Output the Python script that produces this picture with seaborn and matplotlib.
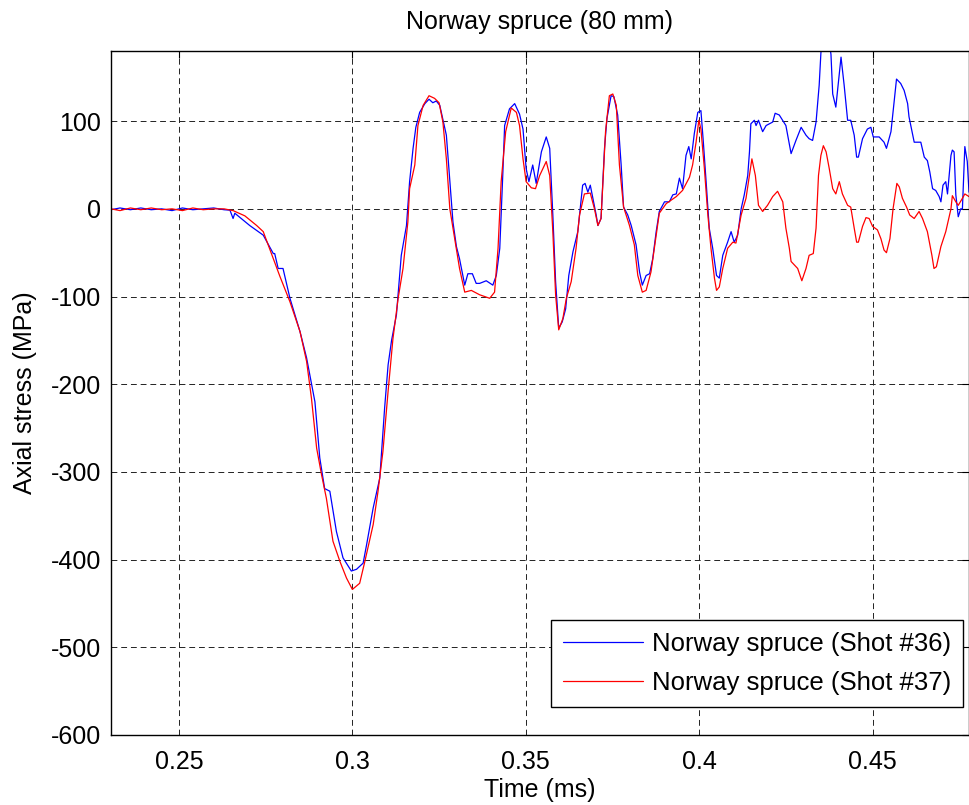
import numpy as np
import pandas as pd
import matplotlib
matplotlib.use("Agg")
import matplotlib.pyplot as plt
import seaborn as sns

# ---------------- data ----------------
series_names = ["Norway spruce (Shot #36)", "Norway spruce (Shot #37)"]

t36 = [0.2304, 0.233, 0.236, 0.239, 0.242, 0.245, 0.248, 0.251, 0.254, 0.257, 0.260, 0.263,
       0.2647, 0.2656, 0.2661, 0.2704, 0.2743, 0.2772, 0.2776, 0.2786, 0.2800, 0.2820, 0.2849,
       0.2868, 0.2892, 0.2906, 0.2920, 0.2935, 0.2954, 0.2973, 0.2997, 0.3012, 0.3031, 0.3041,
       0.3060, 0.3079, 0.3093, 0.3103, 0.3113, 0.3127, 0.3141, 0.3156, 0.3165, 0.3175, 0.3183,
       0.3194, 0.3209, 0.3221, 0.3232, 0.3242, 0.3252, 0.3271, 0.3281, 0.3290, 0.3300, 0.3309,
       0.3324, 0.3333, 0.3346, 0.3357, 0.3367, 0.3386, 0.3405, 0.3415, 0.3425, 0.3434, 0.3439,
       0.3453, 0.3468, 0.3482, 0.3492, 0.3501, 0.3509, 0.3520, 0.3530, 0.3545, 0.3559, 0.3569,
       0.3578, 0.3586, 0.3595, 0.3605, 0.3615, 0.3624, 0.3636, 0.3650, 0.3664, 0.3671, 0.3679,
       0.3686, 0.3703, 0.3708, 0.3717, 0.3727, 0.3734, 0.3746, 0.3754, 0.3765, 0.3775, 0.3782,
       0.3794, 0.3804, 0.3818, 0.3828, 0.3836, 0.3847, 0.3857, 0.3866, 0.3876, 0.3885, 0.3900,
       0.3914, 0.3924, 0.3934, 0.3943, 0.3952, 0.3962, 0.3970, 0.3977, 0.3986, 0.3996, 0.4005,
       0.4012, 0.4020, 0.4029, 0.4039, 0.4050, 0.4058, 0.4068, 0.4082, 0.4092, 0.4101, 0.4111,
       0.4121, 0.4130, 0.4140, 0.4145, 0.4149, 0.4159, 0.4164, 0.4171, 0.4183, 0.4193, 0.4212,
       0.4219, 0.4231, 0.4250, 0.4265, 0.4279, 0.4294, 0.4308, 0.4317, 0.4327, 0.4337, 0.4346,
       0.4351, 0.4361, 0.4372, 0.4380, 0.4385, 0.4394, 0.4409, 0.4418, 0.4428, 0.4437, 0.4447,
       0.4454, 0.4459, 0.4471, 0.4485, 0.4495, 0.4502, 0.4519, 0.4533, 0.4540, 0.4553, 0.4569,
       0.4581, 0.4591, 0.4601, 0.4605, 0.4620, 0.4639, 0.4649, 0.4658, 0.4665, 0.4673, 0.4682,
       0.4692, 0.4697, 0.4703, 0.4711, 0.4716, 0.4726, 0.4730, 0.4735, 0.4740, 0.4747, 0.4754,
       0.4759, 0.4766, 0.4773, 0.4778]
s36 = [-1, 1, -1, 1, -1, 0, -2, 1, -1, 0, 1, -1,
       -1.5, -11, -5, -19, -30, -51, -51, -68, -68, -102, -140,
       -170, -220, -284, -319, -322, -368, -398, -413, -411, -404, -383,
       -341, -307, -227, -178, -150, -121, -53, -19, 31, 69, 93,
       110, 120, 125, 121, 123, 118, 84, 31, -15, -43, -57,
       -87, -74, -74, -85, -85, -82, -87, -76, -45, 42, 95,
       114, 120, 108, 91, 46, 31, 50, 29, 65, 82, 69,
       -7, -83, -136, -129, -114, -76, -49, -26, 27, 29, 19,
       27, -7, -19, -11, 69, 103, 129, 128, 107, 50, 2,
       -7, -19, -41, -72, -87, -76, -74, -57, -26, -3, 8,
       8, 16, 17, 35, 23, 61, 71, 57, 86, 110, 112,
       76, 31, -22, -45, -76, -79, -53, -38, -26, -38, -30,
       0, 16, 38, 65, 97, 101, 95, 101, 88, 95, 99,
       109, 107, 95, 63, 78, 93, 84, 80, 78, 99, 141,
       178, 205, 200, 176, 131, 116, 173, 141, 101, 101, 84,
       59, 59, 80, 91, 93, 82, 82, 76, 69, 88, 148,
       143, 135, 120, 105, 76, 76, 59, 55, 42, 23, 21,
       14, 8, 27, 31, 17, 61, 67, 65, 16, -9, 0,
       0, 71, 54, 19]

t37 = [0.2304, 0.233, 0.236, 0.239, 0.242, 0.245, 0.248, 0.251, 0.254, 0.257, 0.260, 0.263,
       0.2656, 0.2690, 0.2724, 0.2743, 0.2772, 0.2791, 0.2820, 0.2849, 0.2868, 0.2882, 0.2897, 0.2911,
       0.2925, 0.2944, 0.2964, 0.2983, 0.3000, 0.3021, 0.3036, 0.3060, 0.3074, 0.3088, 0.3103,
       0.3117, 0.3132, 0.3146, 0.3160, 0.3165, 0.3180, 0.3189, 0.3204, 0.3221, 0.3237, 0.3250,
       0.3261, 0.3271, 0.3281, 0.3295, 0.3309, 0.3324, 0.3343, 0.3367, 0.3396, 0.3410, 0.3420,
       0.3429, 0.3442, 0.3458, 0.3473, 0.3482, 0.3492, 0.3501, 0.3516, 0.3528, 0.3540, 0.3559,
       0.3569, 0.3578, 0.3586, 0.3595, 0.3607, 0.3617, 0.3631, 0.3645, 0.3655, 0.3669, 0.3686,
       0.3698, 0.3708, 0.3717, 0.3730, 0.3741, 0.3751, 0.3761, 0.3770, 0.3782, 0.3799, 0.3813,
       0.3823, 0.3836, 0.3847, 0.3861, 0.3876, 0.3885, 0.3905, 0.3934, 0.3952, 0.3972, 0.3981,
       0.3991, 0.3999, 0.4005, 0.4015, 0.4025, 0.4034, 0.4044, 0.4050, 0.4058, 0.4068, 0.4082,
       0.4097, 0.4106, 0.4121, 0.4135, 0.4145, 0.4152, 0.4162, 0.4171, 0.4183, 0.4197, 0.4212,
       0.4226, 0.4241, 0.4250, 0.4260, 0.4265, 0.4284, 0.4296, 0.4308, 0.4317, 0.4329, 0.4337,
       0.4344, 0.4351, 0.4358, 0.4366, 0.4375, 0.4385, 0.4394, 0.4404, 0.4413, 0.4428, 0.4437,
       0.4447, 0.4454, 0.4459, 0.4471, 0.4481, 0.4490, 0.4500, 0.4514, 0.4524, 0.4533, 0.4540,
       0.4550, 0.4559, 0.4570, 0.4577, 0.4586, 0.4598, 0.4607, 0.4620, 0.4634, 0.4644, 0.4658,
       0.4671, 0.4677, 0.4684, 0.4697, 0.4711, 0.4726, 0.4730, 0.4740, 0.4747, 0.4759, 0.4766,
       0.4778]
s37 = [0, -2, 1, -1, 1, -1, 0, -2, 1, -1, 0, 0,
       -2, -8, -19, -26, -57, -77, -106, -140, -174, -216, -273, -303,
       -330, -379, -402, -421, -434, -427, -402, -360, -322, -277, -208,
       -148, -102, -68, -15, 23, 50, 95, 118, 129, 126, 121,
       99, 57, 0, -34, -68, -95, -93, -98, -102, -95, -45,
       31, 88, 115, 110, 95, 57, 31, 24, 23, 38, 54,
       38, -26, -98, -138, -125, -102, -83, -45, -7, 17, 18,
       0, -19, -11, 88, 129, 131, 118, 50, 2, -19, -41,
       -76, -95, -93, -72, -30, -5, 6, 14, 21, 36, 50,
       76, 101, 91, 46, -7, -45, -79, -93, -89, -68, -45,
       -38, -39, -7, 12, 38, 57, 38, 4, -3, 4, 14,
       20, 8, -22, -45, -60, -68, -82, -68, -53, -51, -22,
       38, 61, 72, 65, 46, 23, 17, 31, 17, 4, 2,
       -22, -38, -38, -20, -10, -11, -20, -24, -34, -47, -50,
       -34, 0, 29, 25, 12, 2, -7, -11, -3, -11, -26,
       -53, -68, -66, -43, -26, 0, 15, 8, 4, 12, 17,
       14]

x_ticks = [0.25, 0.3, 0.35, 0.4, 0.45]
x_tick_labels = ["0.25", "0.3", "0.35", "0.4", "0.45"]
y_ticks = [-600, -500, -400, -300, -200, -100, 0, 100]
title_text = "Norway spruce (80 mm)"
x_label = "Time (ms)"
y_label = "Axial stress (MPa)"

df = pd.concat([
    pd.DataFrame({"Time": t36, "Stress": s36, "Series": series_names[0]}),
    pd.DataFrame({"Time": t37, "Stress": s37, "Series": series_names[1]}),
], ignore_index=True)

# ---------------- style ----------------
sns.set_style("white")
plt.rcParams["font.family"] = ["Liberation Sans", "DejaVu Sans"]
plt.rcParams["axes.unicode_minus"] = False
plt.rcParams["text.color"] = "black"
plt.rcParams["axes.labelcolor"] = "black"
FS = 18

fig = plt.figure(figsize=(9.70, 8.05), dpi=100)
ax = fig.add_axes([111 / 970, 1 - 735 / 805, (969 - 111) / 970, (735 - 51) / 805])

sns.lineplot(data=df, x="Time", y="Stress", hue="Series",
             palette={series_names[0]: "#0000ff", series_names[1]: "#ff0000"},
             estimator=None, sort=False, linewidth=0.9, ax=ax)

ax.set_xlim(0.2304, 0.4778)
ax.set_ylim(-600, 180)
ax.set_xticks(x_ticks)
ax.set_xticklabels(x_tick_labels)
ax.set_yticks(y_ticks)
ax.tick_params(axis="both", direction="in", length=5, width=0.8, labelsize=FS,
               top=True, right=True, colors="black", labelcolor="black", pad=7)
ax.tick_params(axis="x", pad=11)
ax.grid(True, color="#222222", linestyle=(0, (6, 4)), linewidth=0.7)
for sp in ax.spines.values():
    sp.set_color("black")
    sp.set_linewidth(1.0)

ax.set_title(title_text, fontsize=FS, pad=16, color="black")
ax.set_xlabel(x_label, fontsize=FS, labelpad=3, color="black")
ax.set_ylabel(y_label, fontsize=FS, labelpad=10, color="black")

leg = ax.legend(loc="lower right", bbox_to_anchor=(0.993, 0.041), borderaxespad=0,
                fontsize=18.5, frameon=True, fancybox=False, framealpha=1,
                edgecolor="black", handlelength=3.1, handletextpad=0.35,
                labelspacing=0.58, borderpad=0.47, title=None)
leg.get_frame().set_linewidth(1.0)
for line in leg.get_lines():
    line.set_linewidth(0.9)
for txt in leg.get_texts():
    txt.set_color("black")

fig.savefig("out.png", dpi=100)
